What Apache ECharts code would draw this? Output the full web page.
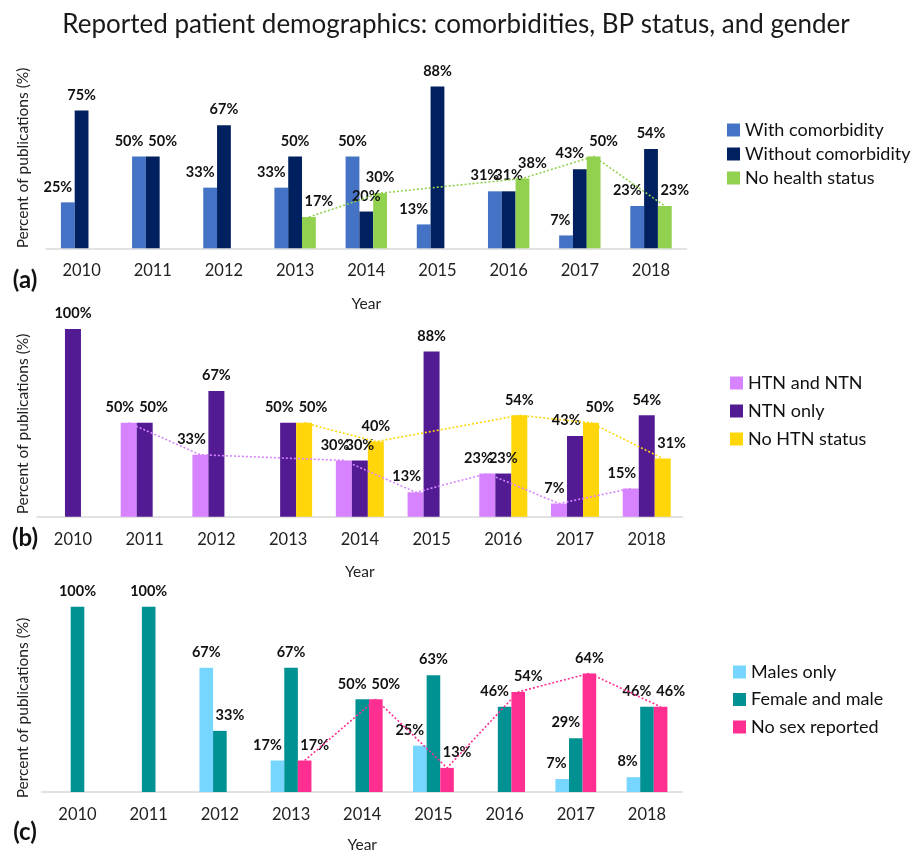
<!DOCTYPE html>
<html>
<head>
<meta charset="utf-8">
<script src="https://cdn.jsdelivr.net/npm/echarts@6/dist/echarts.min.js"></script>
<style>html,body{margin:0;padding:0;background:#fff;}#c{width:912px;height:854px;}</style>
</head>
<body>
<div id="c"></div>
<script>
const years = ['2010','2011','2012','2013','2014','2015','2016','2017','2018'];

// Panel (a)
const withComorbidity    = [25, 50, 33, 33, 50, 13, 31, 7, 23];
const withoutComorbidity = [75, 50, 67, 50, 20, 88, 31, 43, 54];
const noHealthStatus     = [null, null, null, 17, 30, null, 38, 50, 23];

// Panel (b)
const htnAndNtn   = [null, 50, 33, null, 30, 13, 23, 7, 15];
const ntnOnly     = [100, 50, 67, 50, 30, 88, 23, 43, 54];
const noHtnStatus = [null, null, null, 50, 40, null, 54, 50, 31];

// Panel (c)
const malesOnly      = [null, null, 67, 17, null, 25, null, 7, 8];
const femaleAndMale  = [100, 100, 33, 67, 50, 63, 46, 29, 46];
const noSexReported  = [null, null, null, 17, 50, 13, 54, 64, 46];

const FONT = 'Lato, "Open Sans", sans-serif';

const panels = [
  { grid: {left: 46, top: 64.5, width: 640.6, height: 183.8}, barW: 13.8,
    series: [
      {name: 'With comorbidity', data: withComorbidity, color: '#4472c4'},
      {name: 'Without comorbidity', data: withoutComorbidity, color: '#002060'},
      {name: 'No health status', data: noHealthStatus, color: '#92d050'}
    ], trend: [2],
    legend: {left: 727, top: 120, gap: 4}, nameGap: 48 },
  { grid: {left: 37.1, top: 329, width: 645.5, height: 187.7}, barW: 16,
    series: [
      {name: 'HTN and NTN', data: htnAndNtn, color: '#d783ff'},
      {name: 'NTN only', data: ntnOnly, color: '#531b93'},
      {name: 'No HTN status', data: noHtnStatus, color: '#ffd60a'}
    ], trend: [0, 2],
    legend: {left: 730, top: 373, gap: 8}, nameGap: 47 },
  { grid: {left: 41.9, top: 606.7, width: 640.7, height: 195}, barW: 13.6,
    series: [
      {name: 'Males only', data: malesOnly, color: '#76d6ff'},
      {name: 'Female and male', data: femaleAndMale, color: '#009193'},
      {name: 'No sex reported', data: noSexReported, color: '#ff2f92'}
    ], trend: [2],
    legend: {left: 733, top: 662, gap: 7.5}, nameGap: 45 }
];

const LABEL_H = 16;

// Spread a label sideways when its neighbouring bar (or that bar's label) sits in its way
function makeLabelLayout(p, j) {
  const ppu = p.grid.height / 100;
  return function (params) {
    const i = params.dataIndex;
    const vals = p.series.map(s => s.data[i]);
    const v = vals[j];
    const conflict = (k) => k >= 0 && k < vals.length && vals[k] != null &&
      (vals[k] - v) * ppu > -LABEL_H;
    const w = params.labelRect.width;
    const push = Math.max(0, (w - p.barW) / 2 + 2.5);
    const leftN = conflict(j - 1), rightN = conflict(j + 1);
    let dx = 0;
    if (rightN && !leftN) dx = -push;
    else if (leftN && !rightN) dx = push;
    return {dx: dx};
  };
}

const grid = [], xAxis = [], yAxis = [], series = [], legend = [];
panels.forEach((p, k) => {
  grid.push(p.grid);
  xAxis.push({
    type: 'category', data: years, gridIndex: k,
    axisLine: {lineStyle: {color: '#d9d9d9', width: 1.5}},
    axisTick: {show: false},
    axisLabel: {fontSize: 16.5, color: '#222', fontFamily: FONT, margin: 14},
    name: 'Year', nameLocation: 'middle', nameGap: p.nameGap,
    nameTextStyle: {fontSize: 15.5, color: '#222', fontFamily: FONT}
  });
  // hidden value axis used to place the dotted trend lines over their bar slot
  xAxis.push({type: 'value', gridIndex: k, min: -0.5, max: 8.5, show: false});
  yAxis.push({type: 'value', gridIndex: k, min: 0, max: 100, show: false});
  const catAx = k * 2, valAx = k * 2 + 1;
  p.series.forEach((s, j) => {
    series.push({
      type: 'bar', name: s.name, data: s.data, xAxisIndex: catAx, yAxisIndex: k,
      barWidth: p.barW, barGap: '0%',
      itemStyle: {color: s.color},
      label: {show: true, position: 'top', distance: 8, formatter: '{c}%',
        fontSize: 14.5, fontWeight: 'bold', color: '#111', fontFamily: FONT},
      labelLayout: makeLabelLayout(p, j),
      z: 2
    });
  });
  const slotFrac = p.barW / (p.grid.width / years.length);
  p.trend.forEach(ti => {
    const s = p.series[ti];
    const off = (ti - 1) * slotFrac;
    const pts = [];
    s.data.forEach((v, i) => { if (v != null) pts.push([i + off, v]); });
    series.push({
      type: 'line', name: s.name + ' trend', data: pts, xAxisIndex: valAx, yAxisIndex: k,
      symbol: 'none', silent: true, z: 5,
      lineStyle: {color: s.color, width: 1.6, type: [2, 2]}
    });
  });
  legend.push({
    orient: 'vertical', left: p.legend.left, top: p.legend.top, padding: 0,
    data: p.series.map(s => s.name), icon: 'rect', itemWidth: 13, itemHeight: 13,
    itemGap: p.legend.gap, selectedMode: false,
    textStyle: {fontSize: 18, color: '#111', fontFamily: FONT, lineHeight: 20}
  });
});

const yLabelY = [158, 424, 708];
const letterY = [280, 538, 832];
const graphic = [];
yLabelY.forEach(y => graphic.push({
  type: 'text', x: 23, y: y, rotation: Math.PI / 2,
  style: {text: 'Percent of publications (%)', font: '15.5px ' + FONT, fill: '#222',
    textAlign: 'center', textVerticalAlign: 'middle'}
}));
['(a)', '(b)', '(c)'].forEach((t, i) => graphic.push({
  type: 'text', x: 25, y: letterY[i],
  style: {text: t, font: 'bold 24px ' + FONT, fill: '#111', textAlign: 'center', textVerticalAlign: 'middle'}
}));

const chart = echarts.init(document.getElementById('c'), null, {renderer: 'canvas'});
chart.setOption({
  animation: false,
  backgroundColor: '#fff',
  title: {text: 'Reported patient demographics: comorbidities, BP status, and gender',
    left: 'center', top: 7,
    textStyle: {fontSize: 26, fontWeight: 'normal', color: '#1a1a1a', fontFamily: FONT}},
  grid, xAxis, yAxis, series, legend, graphic
});
</script>
</body>
</html>
